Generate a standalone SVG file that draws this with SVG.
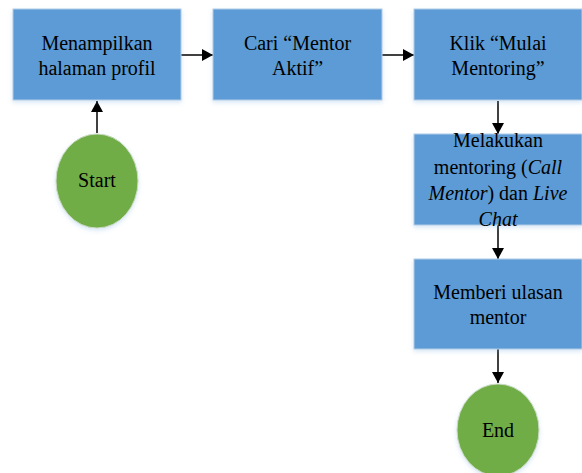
<svg xmlns="http://www.w3.org/2000/svg" width="582" height="473" viewBox="0 0 582 473">
  <style>
    .box { fill: #5B9BD5; stroke: #B4CDE8; stroke-width: 1; filter: url(#shadow); }
    .term { fill: #70AD47; stroke: #C9D9C0; stroke-width: 1; filter: url(#shadow); }
    .lbl { font-family: "Liberation Serif", "Times New Roman", serif; font-size: 20px; fill: #000; text-anchor: middle; }
    .edge { stroke: #000; stroke-width: 1.5; fill: none; marker-end: url(#arrow); }
  </style>
  <defs>
    <filter id="shadow" x="-10%" y="-10%" width="120%" height="130%">
      <feDropShadow dx="0" dy="2" stdDeviation="2" flood-color="#5B9BD5" flood-opacity="0.25"/>
    </filter>
    <marker id="arrow" viewBox="0 0 11 12" refX="11" refY="6" markerWidth="11" markerHeight="12" markerUnits="userSpaceOnUse" orient="auto">
      <path d="M0,0 L11,6 L0,12 Z" fill="#000"/>
    </marker>
  </defs>

  <g id="connectors">
    <line class="edge" x1="97" y1="133" x2="97" y2="101"/>
    <line class="edge" x1="181" y1="55" x2="213" y2="55"/>
    <line class="edge" x1="382" y1="55" x2="414" y2="55"/>
    <line class="edge" x1="498" y1="101" x2="498" y2="134"/>
    <line class="edge" x1="498" y1="225" x2="498" y2="259"/>
    <line class="edge" x1="498" y1="349" x2="498" y2="383"/>
  </g>

  <g id="menampilkan">
    <rect class="box" x="13" y="9" width="168" height="91"/>
    <text class="lbl" x="97" y="50">Menampilkan</text>
    <text class="lbl" x="97" y="75">halaman profil</text>
  </g>

  <g id="cari-mentor">
    <rect class="box" x="213" y="9" width="169" height="91"/>
    <text class="lbl" x="297.5" y="50">Cari “Mentor</text>
    <text class="lbl" x="297.5" y="75">Aktif”</text>
  </g>

  <g id="mulai-mentoring">
    <rect class="box" x="414" y="9" width="168" height="91"/>
    <text class="lbl" x="498" y="50">Klik “Mulai</text>
    <text class="lbl" x="498" y="75">Mentoring”</text>
  </g>

  <g id="melakukan-mentoring">
    <rect class="box" x="414" y="134" width="168" height="91"/>
    <text class="lbl" x="498" y="147">Melakukan</text>
    <text class="lbl" x="498" y="174">mentoring (<tspan font-style="italic">Call</tspan></text>
    <text class="lbl" x="498" y="200"><tspan font-style="italic">Mentor</tspan>) dan <tspan font-style="italic">Live</tspan></text>
    <text class="lbl" x="498" y="226" font-style="italic">Chat</text>
  </g>

  <g id="memberi-ulasan">
    <rect class="box" x="414" y="259" width="168" height="90"/>
    <text class="lbl" x="498" y="299">Memberi ulasan</text>
    <text class="lbl" x="498" y="324">mentor</text>
  </g>

  <g id="start">
    <ellipse class="term" cx="97" cy="181" rx="41" ry="47"/>
    <text class="lbl" x="97" y="187">Start</text>
  </g>

  <g id="end">
    <ellipse class="term" cx="498" cy="430" rx="41" ry="46"/>
    <text class="lbl" x="498" y="437">End</text>
  </g>
</svg>
